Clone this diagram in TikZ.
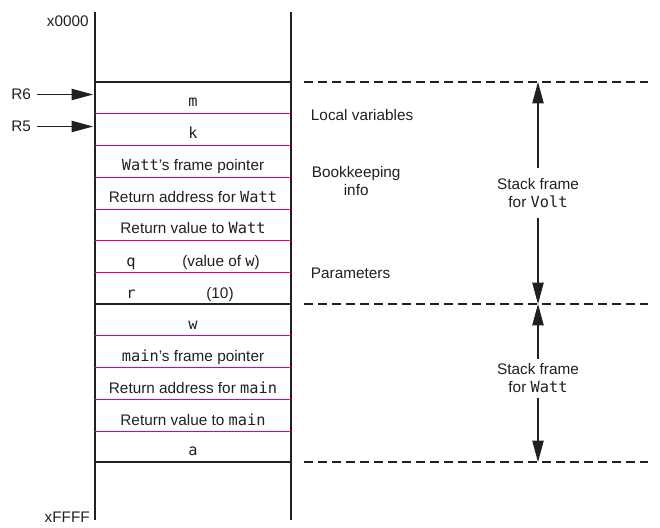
\documentclass[tikz,border=0pt]{standalone}
\usepackage{fontspec}
\setmainfont{Liberation Sans}
\setmonofont{DejaVu Sans Mono}
\usetikzlibrary{arrows.meta}
\definecolor{ink}{RGB}{35,31,32}
\definecolor{mag}{RGB}{228,0,124}
\begin{document}
\begin{tikzpicture}[x=0.75pt,y=-0.75pt,
  txt/.style={font=\fontsize{11.5}{13.5}\selectfont, text=ink, inner sep=0pt},
  celltxt/.style={txt, anchor=base},
  sidetxt/.style={txt, anchor=base west},
  addr/.style={txt, anchor=base east},
  blackline/.style={draw=ink, line width=0.8pt},
  magline/.style={draw=mag, line width=0.6pt},
  dashline/.style={draw=ink, line width=0.8pt, dash pattern=on 7pt off 3.5pt},
  ptr/.style={draw=ink, line width=0.8pt, -{Triangle[length=16pt,width=8.5pt]}},
  framelbl/.style={txt, align=center, fill=white, inner xsep=2pt}
]
\useasboundingbox (0,0) rectangle (660,528);

% stack column
\draw[blackline] (95,12) -- (95,520);
\draw[blackline] (291,12) -- (291,520);
\foreach \yy in {82,304,462} \draw[blackline] (95,\yy) -- (291,\yy);
\foreach \yy in {113,145,177,209,240,272,335,367,399,431} \draw[magline] (95,\yy) -- (291,\yy);

% addresses
\node[addr] (lo) at (89,27) {x0000};
\node[addr] (hi) at (90,522) {xFFFF};

% register pointers
\node[sidetxt] (R6) at (11,99.5) {R6};
\node[sidetxt] (R5) at (11,131.5) {R5};
\coordinate (r6tail) at (37,94.5);
\coordinate (r6tip) at (93,94.5);
\coordinate (r5tail) at (37,126.5);
\coordinate (r5tip) at (93,126.5);
\draw[ptr] (r6tail) -- (r6tip);
\draw[ptr] (r5tail) -- (r5tip);

% cell contents
\node[celltxt] (cm) at (193,107) {\ttfamily m};
\node[celltxt] (ck) at (193,138.5) {\ttfamily k};
\node[celltxt] (cfp) at (193,170) {\texttt{Watt}’s frame pointer};
\node[celltxt] (cra) at (193,202.5) {Return address for \texttt{Watt}};
\node[celltxt] (crv) at (193,233.5) {Return value to \texttt{Watt}};
\node[celltxt] (cq) at (131,266) {\ttfamily q};
\node[celltxt] (cqv) at (221,266) {(value of \texttt{w})};
\node[celltxt] (cr) at (131,298) {\ttfamily r};
\node[celltxt] (crv10) at (220,298) {(10)};
\node[celltxt] (cw) at (193,329.5) {\ttfamily w};
\node[celltxt] (cmfp) at (193,361) {\texttt{main}’s frame pointer};
\node[celltxt] (cmra) at (193,393) {Return address for \texttt{main}};
\node[celltxt] (cmrv) at (193,425) {Return value to \texttt{main}};
\node[celltxt] (ca) at (193,455.5) {\ttfamily a};

% side labels
\node[sidetxt] (lv) at (310.7,120) {Local variables};
\node[txt, align=center, anchor=north] (bk) at (356.2,165.8) {Bookkeeping\\info};
\node[sidetxt] (par) at (310.7,278) {Parameters};

% dashed frame boundaries
\foreach \yy in {82,304,462} \draw[dashline] (304,\yy) -- (648,\yy);

% frame extents
\coordinate (vtop) at (538,82);
\coordinate (vbot) at (538,304);
\coordinate (wbot) at (538,462);
\node[framelbl, inner ysep=7.5pt] (volt) at (538,193.4) {Stack frame\\for \texttt{Volt}};
\node[framelbl, inner ysep=3.5pt] (watt) at (538,378.4) {Stack frame\\for \texttt{Watt}};
\draw[ptr] (volt.north) -- (vtop);
\draw[ptr] (volt.south) -- (vbot);
\draw[ptr] (watt.north) -- (vbot);
\draw[ptr] (watt.south) -- (wbot);
\end{tikzpicture}
\end{document}
